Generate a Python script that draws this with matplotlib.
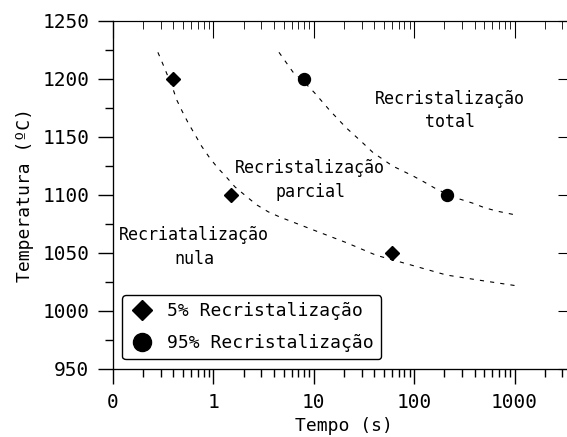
import matplotlib
matplotlib.use("Agg")
import matplotlib.pyplot as plt
from matplotlib.ticker import FixedLocator, NullFormatter
from matplotlib.lines import Line2D

plt.rcParams['font.family'] = ['DejaVu Sans Mono']

# pontos experimentais
t5 = [0.4, 1.5, 60]
T5 = [1200, 1100, 1050]
t95 = [8, 210]
T95 = [1200, 1100]

# curvas tracejadas
c5_t = [0.28, 0.317, 0.394, 0.431, 0.49, 0.562, 0.656, 0.764, 0.91, 1.10, 1.33, 1.64,
        2.15, 2.70, 3.52, 4.6, 9.8, 21, 42, 90, 210, 450, 1000]
c5_T = [1223, 1212, 1192, 1182, 1172, 1162, 1152, 1142, 1132.5, 1123.5, 1116, 1107,
        1098.5, 1091.5, 1085.5, 1081, 1070, 1059, 1048, 1040, 1031, 1026.5, 1022]
c95_t = [4.5, 6.2, 7.9, 10.2, 14.4, 21, 29, 39, 61, 97, 124, 160, 210, 284, 382, 503, 677, 1000]
c95_T = [1223, 1206, 1198, 1188, 1173, 1158, 1147, 1136.5, 1125, 1116.5, 1111.5, 1106, 1101,
         1096.5, 1093, 1089, 1086, 1083]

xticks = [0.1, 1, 10, 100, 1000]
xlabels = ["0", "1", "10", "100", "1000"]
yticks = [950, 1000, 1050, 1100, 1150, 1200, 1250]

fig = plt.figure(figsize=(5.67, 4.37), dpi=100)
ax = fig.add_axes([113/567, 68/437, 462/567, 348/437])

ax.plot(c5_t, c5_T, color='black', lw=0.8, ls=(0, (3.75, 5.5)))
ax.plot(c95_t, c95_T, color='black', lw=0.8, ls=(0, (3.75, 5.5)))
ax.plot(t5, T5, 'D', color='black', ms=6.8, ls='none')
ax.plot(t95, T95, 'o', color='black', ms=8.6, ls='none')

ax.set_xscale('log')
ax.set_xlim(0.1, 4000)
ax.set_ylim(950, 1250)
ax.xaxis.set_major_locator(FixedLocator(xticks))
ax.set_xticklabels(xlabels)
ax.xaxis.set_minor_formatter(NullFormatter())
ax.set_yticks(yticks)
ax.yaxis.set_minor_locator(FixedLocator(list(range(950, 1251, 25))))
ax.tick_params(which='major', direction='out', length=11, width=1, labelsize=14, pad=6)
ax.tick_params(which='minor', direction='out', length=6, width=1)
ax.tick_params(axis='x', which='major', pad=6)
ax.spines['right'].set_visible(False)
ax.spines['top'].set_visible(False)

# ticks para dentro no topo e na direita
axt = ax.twiny()
axt.set_xscale('log')
axt.set_xlim(0.1, 4000)
axt.xaxis.set_major_locator(FixedLocator(xticks))
axt.tick_params(which='major', direction='in', length=12, labeltop=False)
axt.tick_params(which='minor', direction='in', length=6)
axt.xaxis.set_minor_formatter(NullFormatter())
axt.xaxis.set_major_formatter(NullFormatter())
axt.spines['right'].set_visible(False)

axr = ax.twinx()
axr.set_ylim(950, 1250)
axr.set_yticks(yticks)
axr.set_yticklabels([])
axr.tick_params(direction='in', length=12)
axr.spines['right'].set_visible(False)

ax.set_xlabel('Tempo (s)', fontsize=13, labelpad=4)
ax.set_ylabel('Temperatura (ºC)', fontsize=13, labelpad=6)

ax.text(228, 1173, 'Recristalização\ntotal', fontsize=12, ha='center', va='center',
        multialignment='center', linespacing=1.4)
ax.text(9.2, 1113, 'Recristalização\nparcial', fontsize=12, ha='center', va='center',
        multialignment='center', linespacing=1.4)
ax.text(0.64, 1055, 'Recriatalização\nnula', fontsize=12, ha='center', va='center',
        multialignment='center', linespacing=1.4)

handles = [Line2D([], [], marker='D', color='black', ls='none', ms=10),
           Line2D([], [], marker='o', color='black', ls='none', ms=13)]
leg = axr.legend(handles, ['5% Recristalização', '95% Recristalização'],
                 loc='lower left', bbox_to_anchor=(0.012, 0.018), fontsize=13,
                 frameon=True, fancybox=True, edgecolor='black', framealpha=1,
                 handlelength=1.4, handletextpad=0.7, labelspacing=0.75,
                 borderpad=0.4, borderaxespad=0.2)
leg.get_frame().set_linewidth(1.0)

fig.savefig('out.png', dpi=100)
